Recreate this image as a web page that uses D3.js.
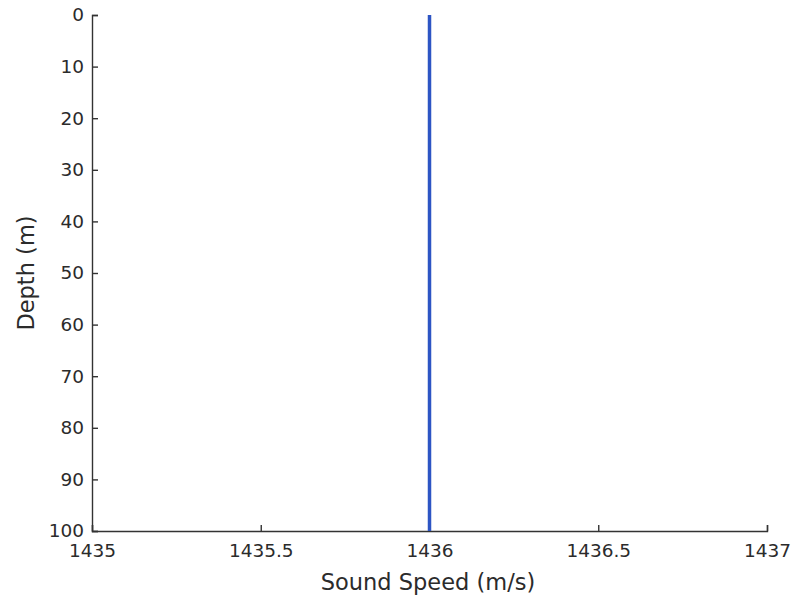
<!DOCTYPE html>
<html><head><meta charset="utf-8">
<script src="https://cdn.jsdelivr.net/npm/d3@7"></script>
<style>body{margin:0;background:#fff;} text{font-family:"DejaVu Sans",sans-serif;}</style>
</head><body>
<script>
const depths = [0, 100];
const speeds = [1436, 1436];
const xTicks = [1435, 1435.5, 1436, 1436.5, 1437];
const yTicks = [0, 10, 20, 30, 40, 50, 60, 70, 80, 90, 100];

const W = 795, H = 597;
const m = {left: 92, right: 28, top: 15, bottom: 66};
const svg = d3.select("body").append("svg").attr("width", W).attr("height", H);
const x = d3.scaleLinear().domain([1435, 1437]).range([m.left, W - m.right]);
const y = d3.scaleLinear().domain([0, 100]).range([m.top, H - m.bottom]);

const ax = svg.append("g").attr("transform", `translate(0,${H - m.bottom})`)
  .call(d3.axisBottom(x).tickValues(xTicks).tickFormat(d => d).tickSizeInner(-6).tickSizeOuter(-6).tickPadding(13));
const ay = svg.append("g").attr("transform", `translate(${m.left},0)`)
  .call(d3.axisLeft(y).tickValues(yTicks).tickFormat(d => d).tickSizeInner(-6).tickSizeOuter(-6).tickPadding(8));
[ax, ay].forEach(g => {
  g.selectAll("path,line").attr("stroke", "#333").attr("stroke-width", 1.4);
  g.selectAll("text").attr("fill", "#2b2b2b").attr("font-size", 18.5);
});

const pts = depths.map((d, i) => [speeds[i], d]);
svg.append("path").datum(pts)
  .attr("d", d3.line().x(d => x(d[0])).y(d => y(d[1])))
  .attr("fill", "none").attr("stroke", "#2d55c4").attr("stroke-width", 3.5);

svg.append("text").attr("x", 428).attr("y", 590)
  .attr("text-anchor", "middle").attr("font-size", 22.5).attr("fill", "#2b2b2b").text("Sound Speed (m/s)");
svg.append("text").attr("transform", `translate(34,${(m.top + H - m.bottom) / 2}) rotate(-90)`)
  .attr("text-anchor", "middle").attr("font-size", 22.5).attr("fill", "#2b2b2b").text("Depth (m)");
</script>
</body></html>
